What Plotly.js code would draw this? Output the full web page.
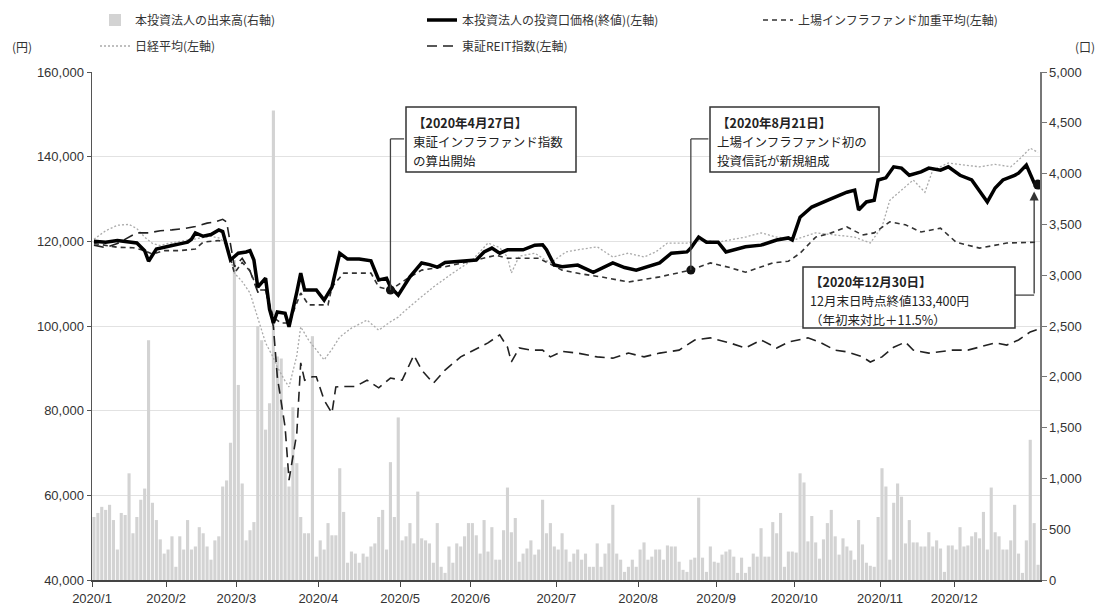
<!DOCTYPE html>
<html><head><meta charset="utf-8">
<script src="https://cdn.plot.ly/plotly-3.0.1.min.js"></script>
<style>html,body{margin:0;padding:0;background:#fff}#chart{width:1103px;height:612px}</style>
</head><body><div id="chart"></div>
<script>
// Month tick labels and first trading-day index of each month
const monthLabels = ["2020/1","2020/2","2020/3","2020/4","2020/5","2020/6","2020/7","2020/8","2020/9","2020/10","2020/11","2020/12"];
const monthStartDays = [0,19,37,58,79,97,119,140,160,180,202,221];

// Daily trading volume (units), per month (right axis)
const volJan = [620,660,720,690,740,590,300,660,640,1050,460,620,790,900,2360,760,590,400,260];
const volFeb = [300,430,130,430,300,590,300,330,520,460,330,200,390,430,920,980,1350,3150];
const volMar = [1920,950,390,490,570,2500,2360,1480,1740,4620,2200,2180,1110,920,1700,1150,620,460,460,2400,230];
const volApr = [390,300,560,440,440,1100,670,170,280,260,170,260,230,330,360,620,690,300,1160,620,1600];
const volMay = [390,430,560,360,870,410,390,360,170,560,130,70,330,170,360,330,430,560];
const volJun = [560,440,260,590,280,520,200,200,490,910,470,610,180,260,310,390,250,300,790,460,560,330];
const volJul = [300,460,300,180,260,300,200,260,130,130,360,130,260,360,740,260,200,80,130,200,130];
const volAug = [300,370,200,230,300,300,200,340,330,330,180,100,80,200,220,810,220,80,330,180];
const volSep = [170,250,280,300,230,70,220,70,130,260,230,510,230,230,570,460,660,130,280,280];
const volOct = [270,1050,960,380,630,370,210,400,560,690,430,250,410,330,290,200,590,350,170,140,130,620];
const volNov = [1100,920,200,760,950,820,360,590,370,370,330,330,470,330,390,310,80,340,340];
const volDec = [300,520,330,340,430,470,410,670,300,910,470,430,300,300,390,740,260,70,390,1380,560,150];

// Fund unit price (close, yen) — trading-day index / value
const fundDays = [0,3,6,9,11,13,14,16,18,20,22,24,25,26,28,30,32,33,35,37,39,40,41,42,44,45,46,47,49,50,52,53,54,57,59,61,63,65,68,71,73,75,76,78,81,84,86,88,90,94,98,100,102,104,106,110,113,115,116,118,120,124,128,133,136,139,143,145,148,152,153,155,157,160,162,167,171,175,178,179,181,184,188,190,193,195,196,198,200,201,203,205,207,209,212,214,217,219,222,225,229,231,233,236,237,239,241,242];
const fundPrice = [120000,119800,120200,119900,119600,117800,115300,118200,118500,119000,119400,119800,120500,122000,121200,121600,122700,122300,115600,117200,117500,117800,115600,109200,111300,104000,100700,103300,103000,99800,108000,112500,108500,108500,106100,109200,117200,115800,115800,115400,110900,111300,109200,107300,111600,114900,114500,113900,115000,115300,115600,117500,118400,117200,118000,118000,119100,119200,118000,114400,114000,114400,112700,114900,113800,113200,114400,114900,117200,117500,118400,121000,119800,119800,117500,118700,119100,120300,120800,120300,125700,128100,129700,130500,131600,132100,127400,129300,129700,134500,135000,137600,137300,135600,136400,137300,136800,137600,135600,134500,129300,132600,134500,135600,136100,138000,133800,133400];

// Listed infrastructure fund weighted average (rebased)
const infraDays = [0,3,6,10,13,15,18,22,26,28,32,34,36,38,40,42,44,46,48,50,53,55,60,61,64,71,73,76,80,84,90,98,103,106,114,120,125,130,137,145,153,158,163,167,174,178,181,185,189,193,197,200,204,208,212,217,221,227,234,242];
const infraVals = [119500,119000,118600,118500,117800,117000,117800,117800,118200,119800,120200,119500,112500,115000,113000,108500,108500,102000,100700,100700,107800,105000,105000,109200,112500,112500,109200,108500,111000,113200,114000,115600,116700,116000,116000,113200,112300,111600,110400,111600,113200,114900,113800,112700,114900,115300,117200,121000,122000,123400,121500,122000,124600,123900,122200,123100,119800,118400,119600,119800];

// Nikkei average (rebased)
const nikkeiDays = [0,3,6,9,11,13,15,17,19,22,25,28,30,32,34,36,38,40,42,44,46,47,49,50,52,53,55,57,59,61,63,66,70,73,76,78,79,82,87,92,97,101,104,106,107,109,113,117,121,124,129,133,137,141,144,147,152,156,160,164,167,171,175,180,185,190,195,199,202,204,207,210,213,215,219,223,227,231,235,237,240,242];
const nikkeiVals = [120500,122500,123800,124000,123000,121000,119500,119000,119500,120000,120500,121000,121200,120800,119500,112500,110500,107800,102000,96000,92500,90300,87000,85600,93000,99800,96700,94300,92000,94500,97400,99500,101400,99000,101000,102100,103000,105400,109200,112500,115600,119600,118500,116300,112500,116500,117200,114900,117500,118000,118700,116300,117200,116300,117500,119600,119600,120300,119800,120500,121000,122000,121000,120500,122000,121500,121000,119600,123400,129700,132100,134500,131600,136800,138500,138000,137600,138200,137600,139200,142000,141000];

// TSE REIT index (rebased)
const reitDays = [0,3,6,9,11,14,17,20,23,26,29,31,33,34,36,38,40,42,44,46,47,49,50,52,53,54,56,57,59,61,62,64,67,70,73,76,79,82,84,87,90,94,99,101,104,106,107,109,112,115,117,120,124,129,133,137,141,145,150,154,158,163,167,171,175,178,183,186,190,193,197,199,202,205,208,210,214,217,220,224,227,231,234,237,240,242];
const reitVals = [119100,118500,119500,121000,122000,122000,122500,122700,123000,123500,124300,124600,125200,124600,114000,116000,113000,108000,108500,99800,88000,76100,63600,74700,91300,87200,88000,88000,82500,79400,85600,85700,85700,87200,85400,87700,87200,93100,89600,86500,89600,92700,95000,96000,97900,95000,91500,94800,94300,94300,92700,94000,93600,92700,92400,93600,92700,93600,94300,96700,97200,96000,94800,96700,94800,96200,97200,96200,94300,93900,92700,91500,92700,95000,96200,94300,93600,93900,94300,94300,95000,96000,95500,96700,98600,99200];

// Event days (trading-day index) marked on the infra average line
const eventDays = [76,153];

const legendNames = ["本投資法人の出来高(右軸)","本投資法人の投資口価格(終値)(左軸)","上場インフラファンド加重平均(左軸)","日経平均(左軸)","東証REIT指数(左軸)"];

// Annotation box texts (one entry per line)
const box1Lines = ["<b>【2020年4月27日】</b>","東証インフラファンド指数","の算出開始"];
const box2Lines = ["<b>【2020年8月21日】</b>","上場インフラファンド初の","投資信託が新規組成"];
const box3Lines = ["<b>【2020年12月30日】</b>","12月末日時点終値133,400円","（年初来対比＋11.5%）"];

const volume = [].concat(volJan,volFeb,volMar,volApr,volMay,volJun,volJul,volAug,volSep,volOct,volNov,volDec);
const eventVals = eventDays.map(d => infraVals[infraDays.indexOf(d)]);

const FONT = "Liberation Sans, Arial, 'Noto Sans CJK JP', sans-serif";
const JP = "'Noto Sans CJK JP', 'Liberation Sans', sans-serif";

// plot area in pixels: x 92..1040, y 72..580
const PL = 92, PR = 1040, PT = 72, PB = 580;
const px = v => (v - PL) / (PR - PL);
const py = v => (PB - v) / (PB - PT);

const traces = [
  {type:'bar', y: volume, yaxis:'y', name: legendNames[0], legend:'legend', legendrank:1,
   marker:{color:'#d3d3d3', line:{width:0}}, hoverinfo:'skip'},
  {type:'scatter', mode:'lines', x: nikkeiDays, y: nikkeiVals, yaxis:'y2', name: legendNames[3], legend:'legend2', legendrank:1,
   line:{color:'#aaaaaa', width:1.3, dash:'2px,2px'}},
  {type:'scatter', mode:'lines', x: reitDays, y: reitVals, yaxis:'y2', name: legendNames[4], legend:'legend2', legendrank:2,
   line:{color:'#222', width:1.6, dash:'10px,6px'}},
  {type:'scatter', mode:'lines', x: infraDays, y: infraVals, yaxis:'y2', name: legendNames[2], legend:'legend3', legendrank:1,
   line:{color:'#333', width:1.6, dash:'5px,4px'}},
  {type:'scatter', mode:'lines', x: fundDays, y: fundPrice, yaxis:'y2', name: legendNames[1], legend:'legend', legendrank:2,
   line:{color:'#000', width:3.5}},
  {type:'scatter', mode:'markers', x: eventDays, y: eventVals, yaxis:'y2', showlegend:false,
   marker:{color:'#111', size:9}},
  {type:'scatter', mode:'markers', x: [fundDays[fundDays.length-1]], y: [fundPrice[fundPrice.length-1]], yaxis:'y2', showlegend:false,
   marker:{color:'#111', size:10}}
];

const boxFont = {family: JP, size: 12.5, color:'#222'};
function boxAnns(lines, left, firstCenter) {
  return lines.map((t, i) => ({xref:'paper', yref:'paper', x: px(left), y: py(firstCenter + i*19),
    xanchor:'left', yanchor:'middle', align:'left', showarrow:false, text:t, font: boxFont}));
}
function boxRect(l, t, r, b) {
  return {type:'rect', xref:'paper', yref:'paper', x0:px(l), x1:px(r), y0:py(b), y1:py(t),
          fillcolor:'#fff', line:{color:'#333', width:1.5}, layer:'above'};
}
function legendAt(left, centerY) {
  return {orientation:'h', x:px(left), y:py(centerY), xanchor:'left', yanchor:'middle',
          entrywidth:282, entrywidthmode:'pixels', itemwidth:30,
          font:{family: JP, size:12, color:'#333'}, bgcolor:'rgba(0,0,0,0)', traceorder:'normal'};
}

const layout = {
  width:1103, height:612,
  margin:{l:PL, r:1103-PR, t:PT, b:612-PB, autoexpand:false},
  paper_bgcolor:'#fff', plot_bgcolor:'#fff',
  font:{family: FONT, size:13, color:'#333'},
  bargap:0.2,
  showlegend:true,
  legend: legendAt(95, 20),
  legend2: legendAt(95, 46),
  legend3: legendAt(758, 20),
  xaxis:{range:[-0.5,242.5], tickmode:'array', tickvals: monthStartDays.map(d=>d-0.5), ticktext: monthLabels,
         ticks:'outside', ticklen:5, tickcolor:'#444', showline:true, linecolor:'#444', linewidth:2,
         showgrid:false, zeroline:false, tickfont:{size:13, color:'#333'}},
  yaxis:{side:'right', range:[0,5000], dtick:500, tickformat:',d', showgrid:false, zeroline:false,
         showline:true, linecolor:'#777', linewidth:1.5, ticks:'outside', ticklen:5, tickcolor:'#777',
         tickfont:{size:13, color:'#333'}},
  yaxis2:{overlaying:'y', side:'left', range:[40000,160000], dtick:20000, tickformat:',d',
          showgrid:true, gridcolor:'#e2e2e2', gridwidth:1, zeroline:false,
          showline:true, linecolor:'#555', linewidth:1.5, ticks:'outside', ticklen:4, tickcolor:'#555',
          tickfont:{size:13, color:'#333'}},
  shapes:[
    {type:'line', xref:'x', yref:'y2', x0:eventDays[0], x1:eventDays[0], y0:eventVals[0], y1:144200, line:{color:'#444', width:1.3}, layer:'above'},
    {type:'line', xref:'x', yref:'y2', x0:eventDays[0], x1:79.5, y0:144200, y1:144200, line:{color:'#444', width:1.3}, layer:'above'},
    {type:'line', xref:'x', yref:'y2', x0:eventDays[1], x1:eventDays[1], y0:eventVals[1], y1:144200, line:{color:'#444', width:1.3}, layer:'above'},
    {type:'line', xref:'x', yref:'y2', x0:eventDays[1], x1:157.5, y0:144200, y1:144200, line:{color:'#444', width:1.3}, layer:'above'},
    {type:'line', xref:'x', yref:'y2', x0:236, x1:241, y0:107300, y1:107300, line:{color:'#444', width:1.3}, layer:'above'},
    boxRect(406, 107, 576, 172),
    boxRect(710, 107, 879, 172),
    boxRect(803, 267, 1015, 328)
  ],
  annotations: [].concat(
    boxAnns(box1Lines, 411, 122),
    boxAnns(box2Lines, 715, 122),
    boxAnns(box3Lines, 808, 281),
    [
      {xref:'x', yref:'y2', axref:'x', ayref:'y2', x:241, y:131800, ax:241, ay:107300, text:'', showarrow:true,
       arrowhead:2, arrowsize:1.4, arrowwidth:1.3, arrowcolor:'#333'},
      {xref:'paper', yref:'paper', x:px(22), y:py(46), xanchor:'center', yanchor:'middle', showarrow:false,
       text:'(円)', font:{family: JP, size:12, color:'#333'}},
      {xref:'paper', yref:'paper', x:px(1085), y:py(46), xanchor:'center', yanchor:'middle', showarrow:false,
       text:'(口)', font:{family: JP, size:12, color:'#333'}}
    ])
};

Plotly.newPlot('chart', traces, layout, {staticPlot:true, displayModeBar:false});
</script>
</body></html>
